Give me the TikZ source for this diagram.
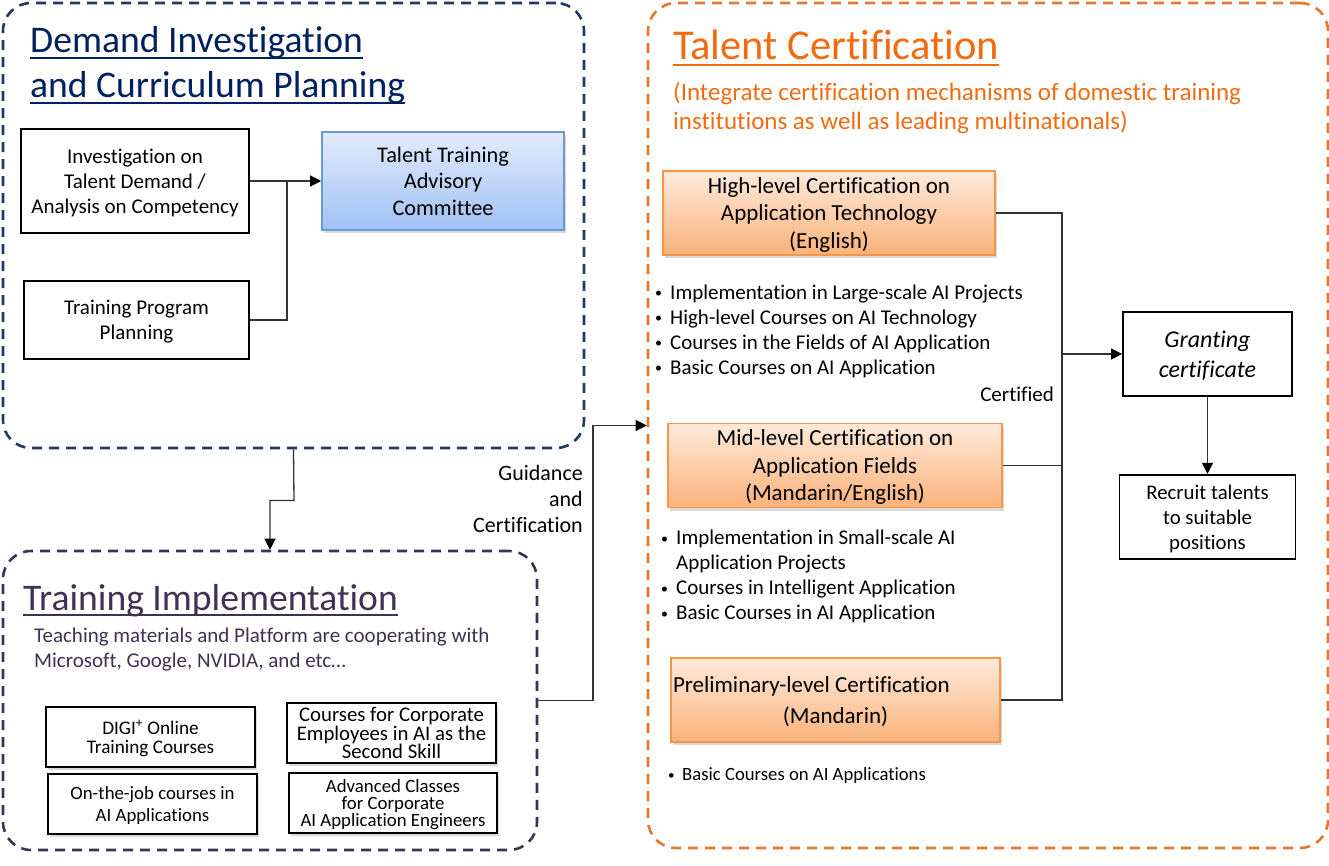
\documentclass[tikz,border=0pt]{standalone}
\usepackage{fontspec}
\setmainfont{Carlito}[Ligatures=NoCommon]
\usetikzlibrary{positioning,arrows.meta,shadows}

\definecolor{navyline}{HTML}{1F3864}
\definecolor{navytext}{HTML}{002060}
\definecolor{plum}{HTML}{403152}
\definecolor{certline}{HTML}{E8772E}
\definecolor{certtext}{HTML}{F26B10}
\definecolor{peachtop}{HTML}{FEEADB}
\definecolor{peachbot}{HTML}{FAB27A}
\definecolor{peachrim}{HTML}{F79646}
\definecolor{skytop}{HTML}{E2EBFC}
\definecolor{skybot}{HTML}{A0C1F3}
\definecolor{skyrim}{HTML}{6C98D8}

\newcommand{\dotitem}{\makebox[15pt][l]{\raisebox{1.5pt}{\fontsize{14}{14}\selectfont\textbullet}}}

\begin{document}
\begin{tikzpicture}[x=1pt, y=-1pt, node distance=77pt,
		area/.style={draw, line width=2.6pt, dash pattern=on 10pt off 7pt, rounded corners=28pt, inner sep=0pt},
		heading/.style={anchor=base west, inner sep=0pt, font=\fontsize{37.6}{46}\selectfont},
		plainbox/.style={draw, line width=1.8pt, align=center, inner sep=0pt, text depth=0pt, fill=white, font=\fontsize{21}{25}\selectfont},
		smallbox/.style={plainbox, minimum width=209pt, minimum height=60pt, drop shadow={shadow xshift=2pt, shadow yshift=-3pt, opacity=0.3}},
		certbox/.style={draw=peachrim, line width=1.6pt, top color=peachtop, bottom color=peachbot, align=center, inner sep=0pt, text depth=0pt, minimum height=84pt, font=\fontsize{23}{27.5}\selectfont, drop shadow={shadow xshift=2pt, shadow yshift=-3pt, opacity=0.3}},
		bullets/.style={anchor=west, align=left, inner sep=0pt, font=\fontsize{21}{25}\selectfont},
		link/.style={draw=black!80, line width=1.3pt},
		arr/.style={link, -{Triangle[length=11pt, width=11pt, color=black]}}
	]
	\useasboundingbox (0,0) rectangle (1329,866);

	% demand investigation and curriculum planning
	\node[area, draw=navyline, minimum width=581pt, minimum height=445pt] (dip) at (293.5,225.5) {};
	\node[heading, text=navytext] (dem1) at (30,53) {Demand Investigation\ };
	\node[heading, text=navytext] (dem2) at (30,98) {and Curriculum Planning};
	\draw[navytext, line width=2.6pt] ([yshift=-5pt]dem1.base west) -- ([yshift=-5pt]dem1.base east);
	\draw[navytext, line width=2.6pt] ([yshift=-5pt]dem2.base west) -- ([yshift=-5pt]dem2.base east);

	\node[plainbox, minimum width=228pt, minimum height=104pt] (inv) at (135,181) {Investigation on\\Talent Demand /\\Analysis on Competency};
	\node[plainbox, minimum width=225pt, minimum height=78pt] (tpp) at (136.5,320) {Training Program\\Planning};
	\node[plainbox, draw=skyrim, line width=1.6pt, top color=skytop, bottom color=skybot, minimum width=242pt, minimum height=98pt, font=\fontsize{22.3}{26.5}\selectfont, drop shadow={shadow xshift=2pt, shadow yshift=-3pt, opacity=0.3}] (tta) at (443,181) {Talent Training\\Advisory\\Committee};

	% training implementation
	\node[area, draw=plum, minimum width=534pt, minimum height=299pt] (ti) at (270,700.5) {};
	\node[heading, text=plum] (imp) at (23,610) {Training Implementation};
	\draw[plum, line width=2.4pt] ([yshift=-5pt]imp.base west) -- ([yshift=-5pt]imp.base east);
	\node[bullets, text=plum] (coop) at (34,650) {Teaching materials and Platform are cooperating with\\Microsoft, Google, NVIDIA, and etc…};

	\node[smallbox, font=\fontsize{19.2}{19}\selectfont] (digi) at (150.5,737) {DIGI\textsuperscript{+} Online\\Training Courses};
	\node[smallbox, font=\fontsize{20.8}{16.5}\selectfont] (emp) at (391.5,733) {Courses for Corporate\\Employees in AI as the\\Second Skill};
	\node[smallbox, font=\fontsize{18.8}{22}\selectfont] (ojt) at (152.5,804) {On-the-job courses in\\AI Applications};
	\node[smallbox, minimum width=208pt, font=\fontsize{18.8}{17}\selectfont] (adv) at (393,803) {Advanced Classes\\for Corporate\\AI Application Engineers};

	% talent certification
	\node[area, draw=certline, minimum width=680pt, minimum height=845pt] (tc) at (988,425.5) {};
	\node[heading, text=certtext, font=\fontsize{42.5}{50}\selectfont] (tcert) at (673,60) {Talent Certification};
	\draw[certtext, line width=2.8pt] ([yshift=-5pt]tcert.base west) -- ([yshift=-5pt]tcert.base east);
	\node[bullets, text=certtext, font=\fontsize{25}{29}\selectfont] (integ) at (673,108) {(Integrate certification mechanisms of domestic training\\institutions as well as leading multinationals)};

	\node[certbox, minimum width=332pt] (high) at (829,213) {High-level Certification on\\Application Technology\\(English)};
	\node[bullets] (hb) at (655,331) {\dotitem Implementation in Large-scale AI Projects\\\dotitem High-level Courses on AI Technology\\\dotitem Courses in the Fields of AI Application\\\dotitem Basic Courses on AI Application};
	\node[certbox, minimum width=334pt] (mid) at (835,465.5) {Mid-level Certification on\\Application Fields\\(Mandarin/English)};
	\node[bullets] (mb) at (661,576.5) {\dotitem Implementation in Small-scale AI\\\hspace*{15pt}Application Projects\\\dotitem Courses in Intelligent Application\\\dotitem Basic Courses in AI Application};
	\node[certbox, minimum width=329pt] (pre) at (835.5,700) {\makebox[325pt][l]{Preliminary-level Certification}\\[3pt](Mandarin)};
	\node[bullets, font=\fontsize{18.7}{23}\selectfont] (pb) at (668,776) {\makebox[14pt][l]{\raisebox{1.3pt}{\fontsize{13}{13}\selectfont\textbullet}}Basic Courses on AI Applications};

	\node[plainbox, minimum width=169pt, minimum height=84pt, font=\fontsize{24}{30}\selectfont\itshape] (gc) at (1207.5,354) {Granting\\certificate};
	\node[plainbox, minimum width=176pt, minimum height=84pt, font=\fontsize{20.8}{25}\selectfont] (rec) [below=77pt of gc] {Recruit talents\\to suitable\\positions};

	% connectors
	\coordinate (mrg) at (287,181);
	\coordinate (drop) at (294,500.5);
	\coordinate (rise) at (593,562);
	\coordinate (bus) at (1062,354);

	\draw[link] (tpp.east) -| (mrg);
	\draw[arr] (dip.south) -- (drop) -| (ti.north);
	\draw[arr] (ti.east) -| (rise) |- (tc.west);
	\draw[link] (high.east) -| (bus);
	\draw[link] (mid.east) -| (bus);
	\draw[link] (pre.east) -| (bus);

	\path
		(inv.east) edge[arr] (tta.west)
		(bus) edge[arr] (gc.west)
		(gc.south) edge[arr] (rec.north)
	;

	\node[anchor=east, align=right, inner sep=0pt, font=\fontsize{22}{26}\selectfont] (guide) at (583,499) {Guidance\\and\\Certification};
	\node[anchor=east, inner sep=0pt, font=\fontsize{21}{25}\selectfont] (certd) at (1054,394) {Certified};
\end{tikzpicture}
\end{document}
